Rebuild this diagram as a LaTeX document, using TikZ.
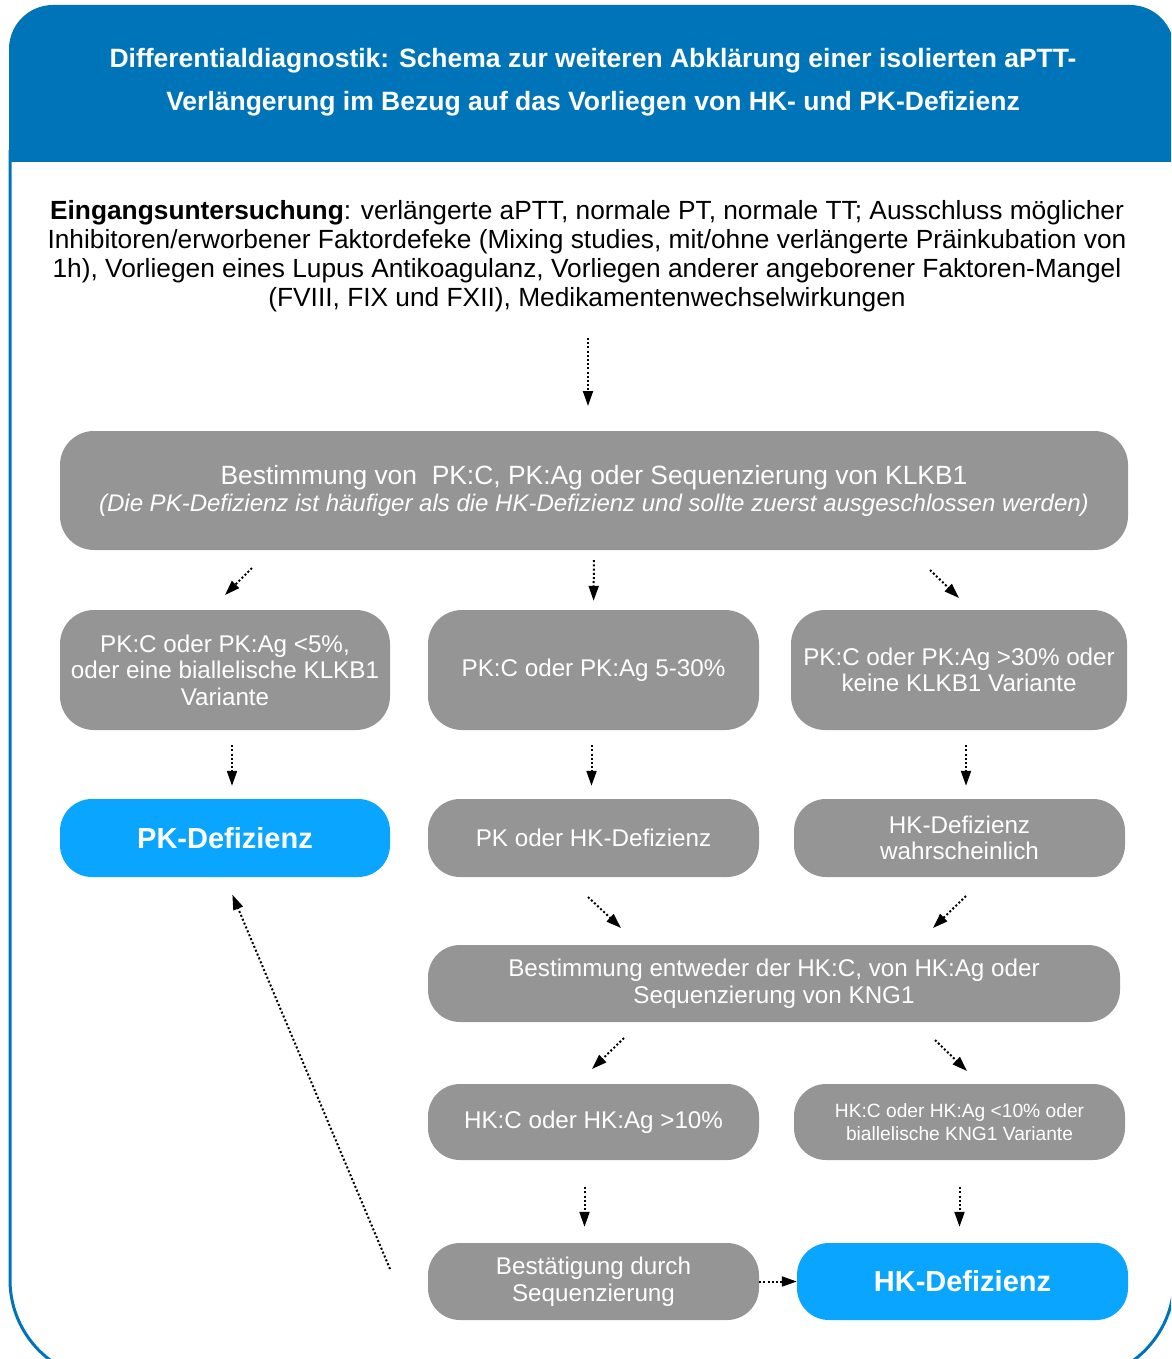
\documentclass[tikz,border=0pt]{standalone}
\usepackage{fontspec}
\setmainfont{Liberation Sans}
\usetikzlibrary{arrows.meta}
\definecolor{hdrblue}{RGB}{0,116,185}
\definecolor{boxgray}{RGB}{149,149,149}
\definecolor{resblue}{RGB}{10,165,255}

\begin{document}
\begin{tikzpicture}[
		x=1pt, y=-1pt,
		>={Triangle[length=15pt,width=10pt]},
		flow/.style={->, line width=2pt, dash pattern=on 2pt off 2.2pt, black},
		box/.style={
				rectangle,
				rounded corners=34pt,
				fill=#1,
				text=white,
				align=center,
				inner sep=0pt,
				font=\fontsize{24.2}{26.5}\selectfont
			},
		box/.default=boxgray,
		result/.style={box=resblue, rounded corners=32pt, font=\fontsize{29}{32}\selectfont\bfseries},
		title/.style={text=white, align=center, font=\fontsize{26.5}{43}\selectfont\bfseries},
		intro/.style={align=center, font=\fontsize{26.3}{29}\selectfont}
	]

	\useasboundingbox (0,0) rectangle (1171,1359);
	\begin{scope}
		\clip (0,0) rectangle (1171,1359);
		\fill[hdrblue] (9,162) [rounded corners=44pt] -- (9,5) -- (1174,5) [sharp corners] -- (1174,162) -- cycle;
		\draw[hdrblue, line width=3pt, rounded corners=100pt] (10,150) -- (10,1380) -- (1174,1380) -- (1174,150);
	\end{scope}

	\node[title] (ttl) at (593,82) {Differentialdiagnostik: Schema zur weiteren Abklärung einer isolierten aPTT-\\Verlängerung im Bezug auf das Vorliegen von HK- und PK-Defizienz};

	\node[intro] (intro) at (587,256) {\textbf{Eingangsuntersuchung}: verlängerte aPTT, normale PT, normale TT; Ausschluss möglicher\\Inhibitoren/erworbener Faktordefeke (Mixing studies, mit/ohne verlängerte Präinkubation von\\1h), Vorliegen eines Lupus Antikoagulanz, Vorliegen anderer angeborener Faktoren-Mangel\\(FVIII, FIX und FXII), Medikamentenwechselwirkungen};

	\node[box, minimum width=1068pt, minimum height=119pt, font=\fontsize{26.4}{27}\selectfont] (klkb) at (594,490.5) {Bestimmung von\ \ PK:C, PK:Ag oder Sequenzierung von KLKB1\\{\fontsize{24}{27}\selectfont\itshape (Die PK-Defizienz ist häufiger als die HK-Defizienz und sollte zuerst ausgeschlossen werden)}};

	\node[box, minimum width=330pt, minimum height=120pt] (pklow) at (225,670) {PK:C oder PK:Ag <5\%,\\oder eine biallelische KLKB1\\Variante};
	\node[box, minimum width=331pt, minimum height=120pt] (pkmid) at (593.5,670) {PK:C oder PK:Ag 5-30\%};
	\node[box, minimum width=336pt, minimum height=120pt] (pkhigh) at (959,670) {PK:C oder PK:Ag >30\% oder\\keine KLKB1 Variante};

	\node[result, minimum width=330pt, minimum height=78pt] (pkdef) at (225,838) {PK-Defizienz};
	\node[box, rounded corners=32pt, minimum width=331pt, minimum height=78pt] (pkhk) at (593.5,838) {PK oder HK-Defizienz};
	\node[box, rounded corners=32pt, minimum width=331pt, minimum height=78pt] (hkprob) at (959.5,838) {HK-Defizienz\\wahrscheinlich};

	\node[box, rounded corners=32pt, minimum width=692pt, minimum height=77pt] (kng) at (774,983.5) {Bestimmung entweder der HK:C, von HK:Ag oder\\Sequenzierung von KNG1};

	\node[box, rounded corners=32pt, minimum width=331pt, minimum height=76pt] (hkhigh) at (593.5,1122) {HK:C oder HK:Ag >10\%};
	\node[box, rounded corners=32pt, minimum width=331pt, minimum height=76pt, font=\fontsize{19.2}{23}\selectfont] (hklow) at (959.5,1122) {HK:C oder HK:Ag <10\% oder\\biallelische KNG1 Variante};

	\node[box, rounded corners=32pt, minimum width=331pt, minimum height=77pt] (confirm) at (593.5,1281.5) {Bestätigung durch\\Sequenzierung};
	\node[result, minimum width=331pt, minimum height=77pt] (hkdef) at (962.5,1281.5) {HK-Defizienz};

	\coordinate (in0) at (588,338);
	\coordinate (out0) at (588,406);
	\coordinate (in1) at (252,568);
	\coordinate (out1) at (225,595);
	\coordinate (in2) at (930,570);
	\coordinate (out2) at (959,598);
	\coordinate (in3) at (588,897);
	\coordinate (out3) at (621,928);
	\coordinate (in4) at (966,896);
	\coordinate (out4) at (933,928);
	\coordinate (in5) at (624,1038);
	\coordinate (out5) at (592,1069);
	\coordinate (in6) at (935,1040);
	\coordinate (out6) at (967,1071);
	\coordinate (back) at (390,1269);

	\draw[flow] (in0) -- (out0);
	\draw[flow] (in1) -- (out1);
	\draw[flow, shorten <=10pt, shorten >=9pt] (klkb.south) -- (pkmid.north);
	\draw[flow] (in2) -- (out2);
	\draw[flow, shorten <=15pt, shorten >=13pt] ([xshift=7pt]pklow.south) -- ([xshift=7pt]pkdef.north);
	\draw[flow, shorten <=15pt, shorten >=13pt] ([xshift=-2pt]pkmid.south) -- ([xshift=-2pt]pkhk.north);
	\draw[flow, shorten <=15pt, shorten >=13pt] ([xshift=7pt]pkhigh.south) -- ([xshift=7pt]pkhigh.south |- hkprob.north);
	\draw[flow] (in3) -- (out3);
	\draw[flow] (in4) -- (out4);
	\draw[flow] (in5) -- (out5);
	\draw[flow] (in6) -- (out6);
	\draw[flow, shorten <=27pt, shorten >=16pt] ([xshift=-9pt]hkhigh.south) -- ([xshift=-9pt]confirm.north);
	\draw[flow, shorten <=27pt, shorten >=16pt] (hklow.south) -- (hklow.south |- hkdef.north);
	\draw[flow] (confirm.east) -- (hkdef.west);
	\draw[flow, shorten >=19pt] (back) -- (pkdef.south);
\end{tikzpicture}
\end{document}
